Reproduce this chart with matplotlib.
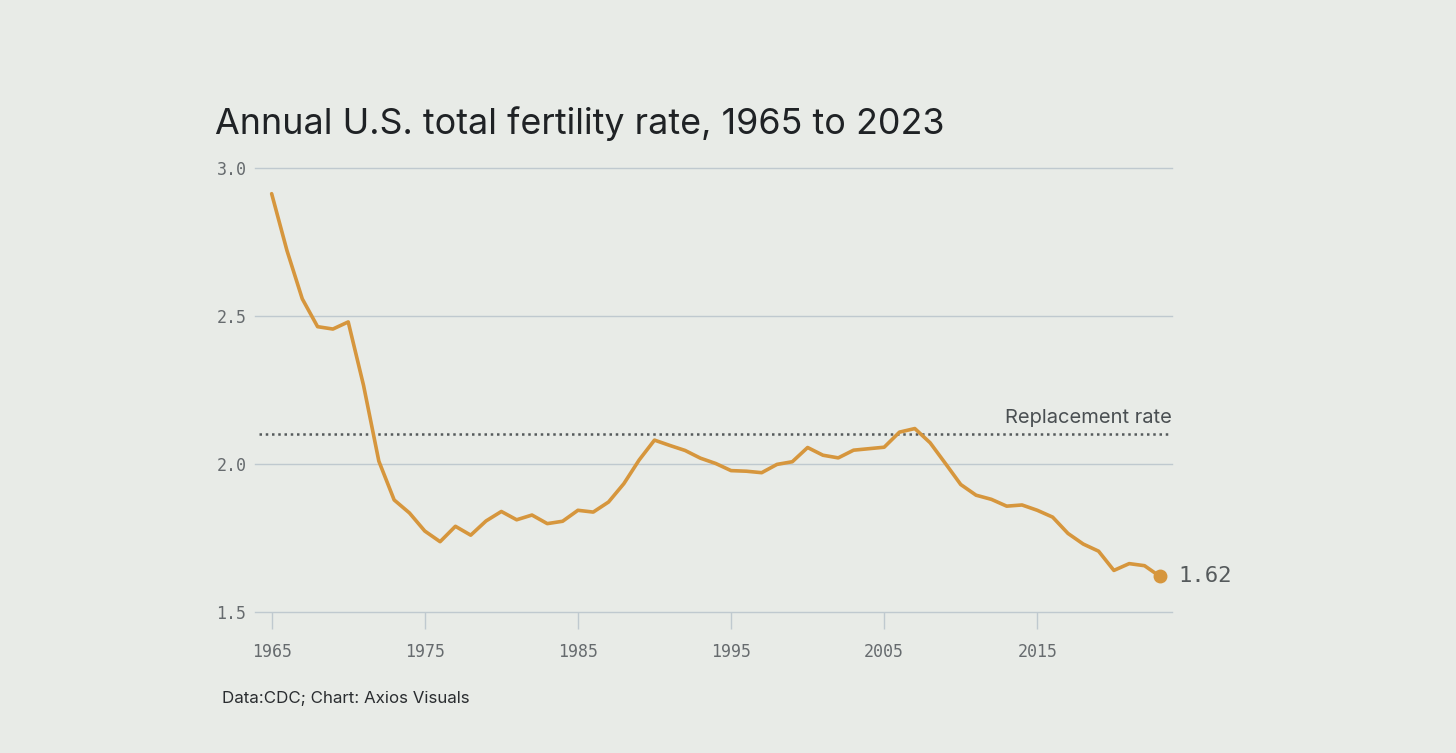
import matplotlib.pyplot as plt

# US total fertility rate (births per woman), CDC
years = list(range(1965, 2024))
tfr = [2.913, 2.721, 2.558, 2.464, 2.456, 2.480, 2.266, 2.010, 1.879, 1.835,
       1.774, 1.738, 1.790, 1.760, 1.808, 1.840, 1.812, 1.828, 1.799, 1.807,
       1.844, 1.838, 1.872, 1.934, 2.014, 2.081, 2.063, 2.046, 2.020, 2.002,
       1.978, 1.976, 1.971, 1.999, 2.008, 2.056, 2.030, 2.021, 2.047, 2.052,
       2.057, 2.108, 2.120, 2.072, 2.002, 1.931, 1.895, 1.881, 1.858, 1.862,
       1.844, 1.821, 1.766, 1.730, 1.706, 1.641, 1.664, 1.657, 1.621]
replacement = 2.1
y_ticks = [1.5, 2.0, 2.5, 3.0]
x_ticks = [1965, 1975, 1985, 1995, 2005, 2015]

bg = '#e8ebe7'
orange = '#d6963d'
grid_col = '#bfc9cf'
mono = 'DejaVu Sans Mono'
sans = 'Inter'

fig = plt.figure(figsize=(14.56, 7.53), dpi=100, facecolor=bg)
ax = fig.add_axes([0.175, 0.187, 0.63, 0.590], facecolor=bg)

ax.set_xlim(1963.9, 2023.8)
ax.set_ylim(1.5, 3.0)

# grid lines
for v in y_ticks:
    ax.axhline(v, color=grid_col, lw=1.0, zorder=1, clip_on=False)

# replacement rate
ax.axhline(replacement, xmin=0.005, xmax=1.0, color='#555a5c', lw=1.8,
           linestyle=(0, (1, 1.5)), zorder=2)
ax.text(2023.8, replacement + 0.025, 'Replacement rate', ha='right', va='bottom',
        fontsize=14.5, color='#4a4f52', family=sans)

# main series
ax.plot(years, tfr, color=orange, lw=2.6, solid_joinstyle='round',
        solid_capstyle='round', zorder=3)
ax.plot(years[-1], tfr[-1], 'o', color=orange, ms=9, zorder=4)
ax.text(years[-1] + 1.2, tfr[-1], f'{tfr[-1]:.2f}', ha='left', va='center',
        fontsize=16, color='#555a5c', family=mono)

# axes styling
for s in ax.spines.values():
    s.set_visible(False)
ax.set_yticks(y_ticks)
ax.set_yticklabels([f'{v:.1f}' for v in y_ticks])
ax.tick_params(axis='y', length=0, pad=6, labelsize=12, labelcolor='#666b6e')
ax.set_xticks(x_ticks)
ax.set_xticklabels([str(v) for v in x_ticks])
ax.tick_params(axis='x', length=12, width=1, color=grid_col, pad=10,
               labelsize=12, labelcolor='#666b6e')
for lab in ax.get_xticklabels() + ax.get_yticklabels():
    lab.set_family(mono)

fig.text(215 / 1456, 1 - 124 / 753, 'Annual U.S. total fertility rate, 1965 to 2023',
         ha='left', va='center', fontsize=25.8, color='#1f2225', family=sans)
fig.text(222 / 1456, 1 - 699 / 753, 'Data:CDC; Chart: Axios Visuals',
         ha='left', va='center', fontsize=12.2, color='#2a2d30', family=sans)

fig.savefig('out.png', dpi=100, facecolor=bg)
